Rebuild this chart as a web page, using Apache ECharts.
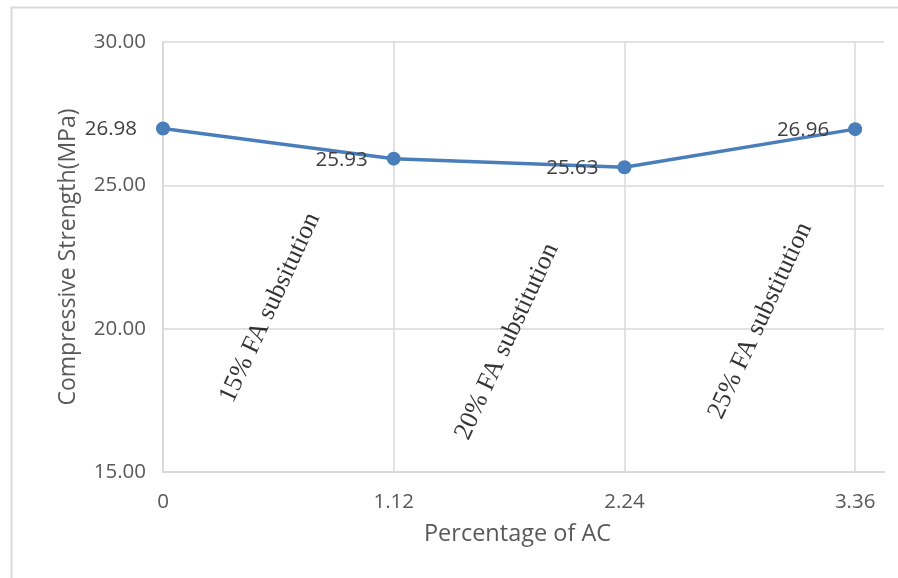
<!DOCTYPE html>
<html>
<head>
<meta charset="utf-8">
<script src="https://cdn.jsdelivr.net/npm/echarts@6/dist/echarts.min.js"></script>
<style>
  html, body { margin: 0; padding: 0; background: #fff; }
  #chart { width: 898px; height: 578px; }
</style>
</head>
<body>
<div id="chart"></div>
<script>
// Percentage of AC (x) against compressive strength (y)
const acPercent = [0, 1.12, 2.24, 3.36];
const strength = [26.98, 25.93, 25.63, 26.96];

// Rotated notes describing the fly-ash replacement level of each interval
const noteText = ['15% FA subsitution', '20% FA substitution', '25% FA substitution'];
const noteX = [0.52, 1.67, 2.90];
const noteY = [20.73, 19.55, 20.28];

const xTicks = [0, 1.12, 2.24, 3.36];
const yTicks = [15, 20, 25, 30];

const gray = '#d9d9d9';
const textGray = '#595959';
const uiFont = '"Open Sans", "Noto Sans", sans-serif';

const chart = echarts.init(document.getElementById('chart'), null, { renderer: 'canvas' });

chart.setOption({
  animation: false,
  backgroundColor: '#fff',
  graphic: [{
    type: 'rect',
    left: 9, top: 5,
    shape: { width: 900, height: 600 },
    style: { fill: 'none', stroke: gray, lineWidth: 2 },
    silent: true
  }],
  grid: { left: 163, right: 14, top: 42, bottom: 106, containLabel: false },
  xAxis: {
    type: 'value',
    min: 0,
    max: 3.5,
    interval: 1.12,
    name: 'Percentage of AC',
    nameLocation: 'middle',
    nameGap: 50,
    nameTextStyle: { fontFamily: uiFont, fontSize: 23.5, color: textGray, padding: [0, 12, 0, 0] },
    axisLine: { show: true, lineStyle: { color: gray, width: 2 } },
    axisTick: { show: false },
    axisLabel: {
      fontFamily: uiFont, fontSize: 20.5, color: textGray, margin: 20,
      showMaxLabel: false,
      formatter: v => (xTicks.some(t => Math.abs(t - v) < 1e-6) ? (v === 0 ? '0' : v.toFixed(2)) : '')
    },
    splitLine: { show: true, showMaxLine: false, lineStyle: { color: gray, width: 1.5 } }
  },
  yAxis: {
    type: 'value',
    min: yTicks[0],
    max: yTicks[yTicks.length - 1],
    interval: 5,
    name: 'Compressive Strength(MPa)',
    nameLocation: 'middle',
    nameGap: 83,
    nameTextStyle: { fontFamily: uiFont, fontSize: 23, color: textGray },
    axisLine: { show: true, lineStyle: { color: gray, width: 2 } },
    axisTick: { show: false },
    axisLabel: {
      fontFamily: uiFont, fontSize: 20.5, color: textGray, margin: 17,
      formatter: v => v.toFixed(2)
    },
    splitLine: { show: true, lineStyle: { color: gray, width: 1.5 } }
  },
  series: [
    {
      type: 'line',
      data: acPercent.map((x, i) => [x, strength[i]]),
      symbol: 'circle',
      symbolSize: 14,
      lineStyle: { color: '#4a7ebb', width: 3.5 },
      itemStyle: { color: '#4a7ebb' },
      label: {
        show: true,
        position: 'left',
        distance: 19,
        offset: [0, 1],
        fontFamily: uiFont,
        fontSize: 20.5,
        color: '#404040',
        formatter: p => p.value[1].toFixed(2)
      },
      z: 3
    },
    {
      type: 'scatter',
      data: noteX.map((x, i) => ({ value: [x, noteY[i]], name: noteText[i] })),
      symbolSize: 0,
      silent: true,
      label: {
        show: true,
        position: 'inside',
        rotate: 65,
        align: 'center',
        verticalAlign: 'middle',
        fontFamily: '"Liberation Serif", "Times New Roman", serif',
        fontSize: 26,
        color: '#000',
        formatter: p => p.name
      },
      z: 2
    }
  ]
});
</script>
</body>
</html>
